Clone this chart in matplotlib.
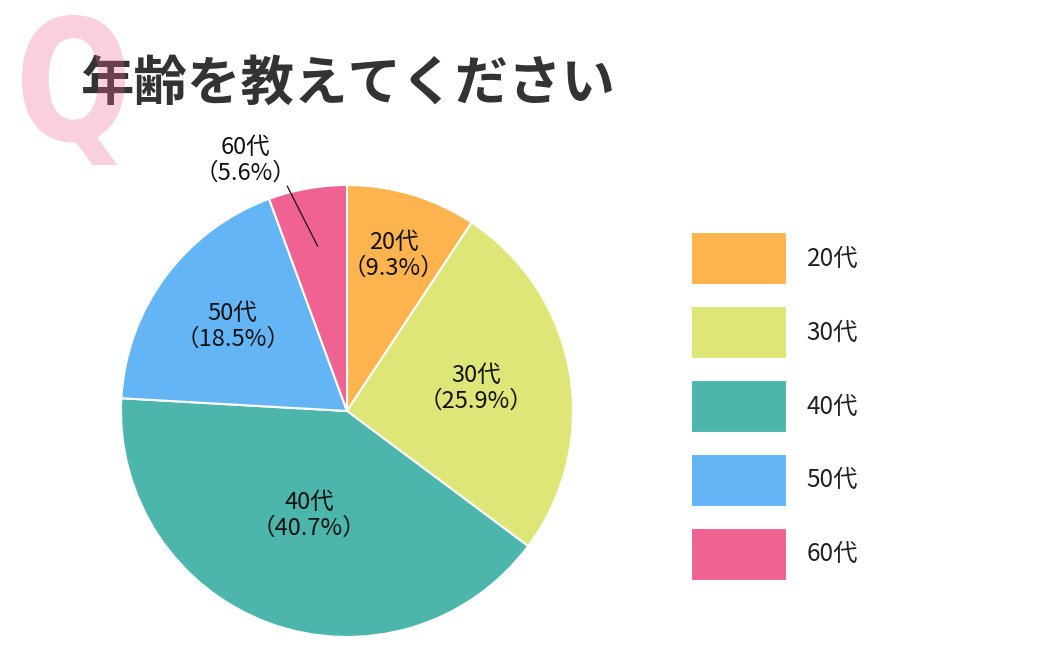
import numpy as np
import matplotlib
matplotlib.use('Agg')
import matplotlib.pyplot as plt
from matplotlib.textpath import TextPath
from matplotlib.patches import PathPatch
from matplotlib.font_manager import FontProperties
from matplotlib.transforms import Affine2D, IdentityTransform

plt.rcParams['font.family'] = ['Noto Sans CJK JP', 'DejaVu Sans']

# data
ages = ['20代', '30代', '40代', '50代', '60代']
shares = [9.3, 25.9, 40.7, 18.5, 5.6]
colors = ['#FDB44E', '#DEE677', '#4DB6AC', '#64B5F6', '#F06292']
label_r = [0.72, 0.58, 0.49, 0.63, None]   # radius of in-slice labels (60代 is outside)

W, H = 1040, 670
fig = plt.figure(figsize=(W / 100, H / 100), dpi=100)

# pie axes: centre (347, 411) px, radius 226 px
cx, cy, R = 347, 411, 226
half = 1.1 * R
ax = fig.add_axes([(cx - half) / W, (H - cy - half) / H, 2 * half / W, 2 * half / H])
wedges, _ = ax.pie(shares, colors=colors, startangle=90, counterclock=False,
                   radius=1.0, wedgeprops=dict(edgecolor='white', linewidth=1.5))
ax.set_xlim(-1.1, 1.1)
ax.set_ylim(-1.1, 1.1)
ax.set_aspect('equal')
ax.axis('off')

# labels
cum = np.cumsum([0] + shares)
for i, (name, v) in enumerate(zip(ages, shares)):
    mid = np.deg2rad(90 - (cum[i] + v / 2) * 3.6)
    txt = f'{name}\n（{v}%）'
    if label_r[i] is not None:
        r = label_r[i]
        ax.text(r * np.cos(mid), r * np.sin(mid), txt, ha='center', va='center',
                fontsize=17, color='#111111', linespacing=1.15)
    else:
        # leader line from inside the slice to just outside the rim
        a_out = mid + np.deg2rad(4.8)
        ax.annotate('', xy=(0.74 * np.cos(mid), 0.74 * np.sin(mid)),
                    xytext=(1.03 * np.cos(a_out), 1.03 * np.sin(a_out)),
                    arrowprops=dict(arrowstyle='-', color='#111111', lw=0.9,
                                    shrinkA=0, shrinkB=0))
        ax.text(-0.45, 1.11, txt, ha='center', va='center',
                fontsize=17, color='#111111', linespacing=1.15)

# legend
fig.legend(wedges, ages, loc='upper left', bbox_to_anchor=(691 / W, 1 - 232 / H),
           frameon=False, fontsize=17.5, handlelength=3.94, handleheight=2.98,
           labelspacing=0.86, handletextpad=0.82, borderpad=0, borderaxespad=0,
           labelcolor='#222222')

# title
fig.text(80 / W, 1 - 84 / H, '年齢を教えてください', fontsize=38.5, fontweight='bold',
         color='#333333', ha='left', va='center')

# big translucent pink Q, squeezed into its box (x 22..125, y 15..165 px from top)
qpath = TextPath((0, 0), 'Q', size=100, prop=FontProperties(family='DejaVu Sans', weight='bold'))
ext = qpath.get_extents()
qx0, qx1, qtop, qbot = 22, 125, 15, 165
tr = (Affine2D().translate(-ext.x0, -ext.y0)
      .scale((qx1 - qx0) / ext.width, (qbot - qtop) / ext.height)
      .translate(qx0, H - qbot))
fig.add_artist(PathPatch(tr.transform_path(qpath), transform=IdentityTransform(),
                         facecolor='#F06292', edgecolor='none', alpha=0.3, zorder=5))

fig.savefig('out.png', dpi=100)
